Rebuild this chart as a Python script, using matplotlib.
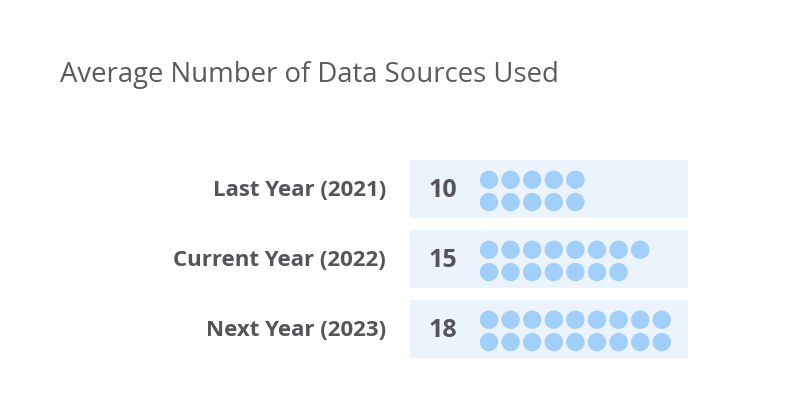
import math
import matplotlib
matplotlib.use("Agg")
import matplotlib.pyplot as plt
from matplotlib.patches import Rectangle, Circle

# data
labels = ["Last Year (2021)", "Current Year (2022)", "Next Year (2023)"]
values = [10, 15, 18]
title = "Average Number of Data Sources Used"

text_color = "#545459"
box_color = "#ebf3fd"
dot_color = "#a2cffa"

fig = plt.figure(figsize=(7.96, 3.96), dpi=100)
ax = fig.add_axes([0, 0, 1, 1])
ax.set_xlim(0, 796)
ax.set_ylim(396, 0)
ax.axis("off")

ax.text(60, 75, title, fontsize=19.8, color="#5a5a5f", family="Open Sans",
        ha="left", va="center")

box_top = [160, 230, 300]
box_h = 57.5
box_x0, box_x1 = 410, 688
dot_x0, dot_step, dot_r = 489, 21.6, 9.2

for top, lab, val in zip(box_top, labels, values):
    cy = top + box_h / 2
    ax.add_patch(Rectangle((box_x0, top), box_x1 - box_x0, box_h,
                           facecolor=box_color, edgecolor="none"))
    ax.text(386, cy + 1.5, lab, fontsize=16, fontweight="bold", color=text_color,
            family="Open Sans", ha="right", va="center")
    ax.text(428, cy + 1.5, str(val), fontsize=18, fontweight="bold", color=text_color,
            family="Open Sans", ha="left", va="center")
    n_top = math.ceil(val / 2)
    rows = [n_top, val - n_top]
    for r, n in enumerate(rows):
        y = cy - 9 + r * 22.3
        for i in range(n):
            ax.add_patch(Circle((dot_x0 + i * dot_step, y), dot_r,
                                facecolor=dot_color, edgecolor="none"))

fig.savefig("out.png", dpi=100)
